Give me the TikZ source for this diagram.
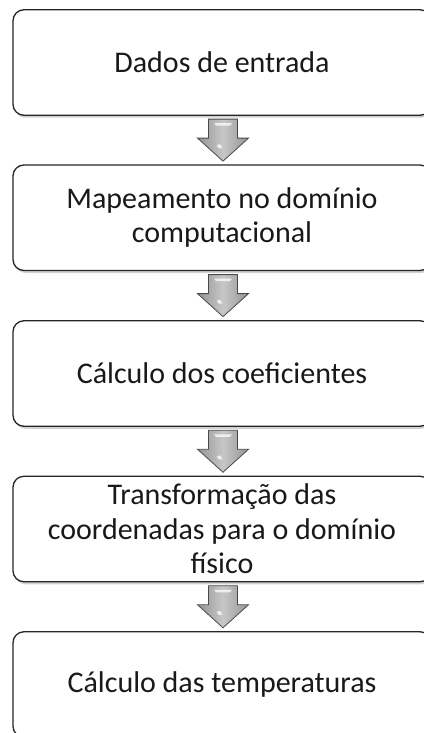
\documentclass[tikz,border=0pt]{standalone}
\usepackage{fontspec}
\setmainfont{Carlito}
\usetikzlibrary{calc,shadows}
\definecolor{boxline}{HTML}{262626}
\definecolor{arrline}{HTML}{4A4A4A}
\tikzset{
  stepbox/.style={draw=boxline, line width=1.3pt, fill=white, rounded corners=11pt,
    minimum width=418pt, minimum height=105.5pt, inner sep=0pt, align=center,
    font=\fontsize{30}{34.5}\selectfont, text=black!90,
    drop shadow={shadow xshift=1.5pt, shadow yshift=-2.5pt, opacity=0.18, fill=black}},
  blockarrow/.style={draw=arrline, line width=0.8pt, line join=miter,
    left color=black!42, right color=black!42, middle color=black!22},
  shine/.style={fill=white, opacity=0.75, draw=none}
}
\newcommand{\flowarrow}[2]{%
  \begin{scope}[shift={($(#1.south)!0.5!(#2.north)+(1,0)$)}]
    \draw[blockarrow] (-14.5,-21) -- (14.5,-21) -- (14.5,-2) -- (25.5,-2)
      -- (0,21) -- (-25.5,-2) -- (-14.5,-2) -- cycle;
    \fill[shine] (-9,-17) -- (9,-17) -- (7,-14.5) -- (-7,-14.5) -- cycle;
    \fill[shine] (-6,5) .. controls (-3,3) and (-1,5) .. (-1,8)
      .. controls (-3,9) and (-6,8) .. cycle;
  \end{scope}}
\begin{document}
\begin{tikzpicture}[x=1pt,y=-1pt]
  \useasboundingbox (0,0) rectangle (423,733);
  \node[stepbox] (b1) at (222,62.5) {Dados de entrada};
  \node[stepbox] (b2) at (222,217.75) {Mapeamento no domínio\\computacional};
  \node[stepbox] (b3) at (222,373.5) {Cálculo dos coeficientes};
  \node[stepbox] (b4) at (222,529) {Transformação das\\coordenadas para o domínio\\físico};
  \node[stepbox] (b5) at (222,684.5) {Cálculo das temperaturas};
  \flowarrow{b1}{b2}
  \flowarrow{b2}{b3}
  \flowarrow{b3}{b4}
  \flowarrow{b4}{b5}
\end{tikzpicture}
\end{document}
